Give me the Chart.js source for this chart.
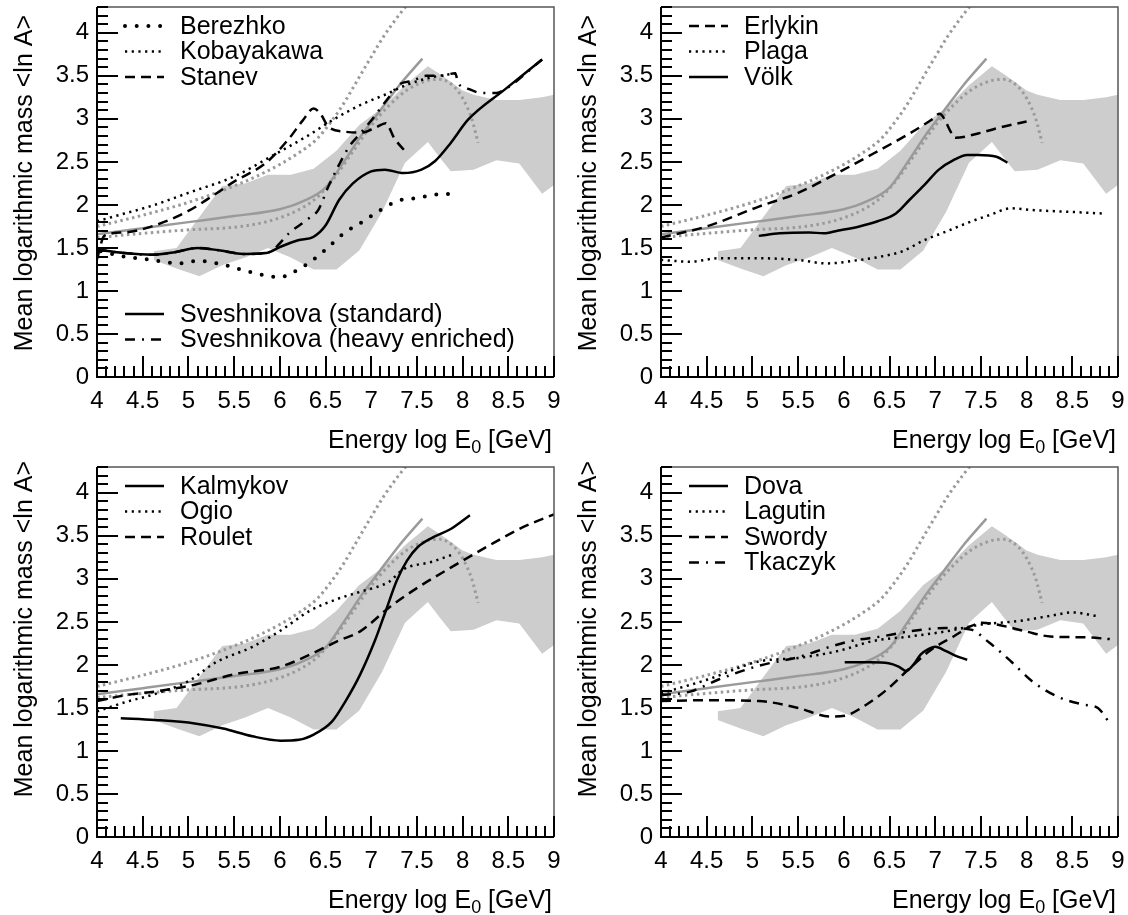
<!DOCTYPE html>
<html>
<head>
<meta charset="utf-8">
<script src="https://cdn.jsdelivr.net/npm/chart.js@4.4.0/dist/chart.umd.min.js"></script>
<style>
  html, body { margin: 0; padding: 0; background: #fff; }
  body { position: relative; width: 1128px; height: 915px; overflow: hidden; }
  .panel { position: absolute; width: 564px; height: 457px; }
</style>
</head>
<body>
<div class="panel" style="left:0;top:0"><canvas id="p1" width="564" height="457"></canvas></div>
<div class="panel" style="left:564px;top:0"><canvas id="p2" width="564" height="457"></canvas></div>
<div class="panel" style="left:0;top:460px"><canvas id="p3" width="564" height="457"></canvas></div>
<div class="panel" style="left:564px;top:460px"><canvas id="p4" width="564" height="457"></canvas></div>
<script>
// axis ticks
const xTicks = [4, 4.5, 5, 5.5, 6, 6.5, 7, 7.5, 8, 8.5, 9];
const yTicks = [0, 0.5, 1, 1.5, 2, 2.5, 3, 3.5, 4];

// measured band (shared by all panels)
const bandX    = [4.62, 4.87, 5.12, 5.37, 5.62, 5.87, 6.12, 6.37, 6.62, 6.87, 7.12, 7.37, 7.62, 7.75, 7.87, 8.0, 8.12, 8.37, 8.62, 8.87, 9.0];
const bandHigh = [1.46, 1.50, 1.86, 2.22, 2.25, 2.35, 2.35, 2.42, 2.63, 2.93, 3.13, 3.39, 3.61, 3.52, 3.43, 3.33, 3.28, 3.22, 3.22, 3.25, 3.28];
const bandLow  = [1.36, 1.26, 1.17, 1.30, 1.39, 1.50, 1.39, 1.25, 1.25, 1.47, 1.92, 2.49, 2.73, 2.55, 2.39, 2.40, 2.41, 2.52, 2.48, 2.13, 2.23];

// gray reference curves (shared)
const refX   = [4.0, 4.5, 5.0, 5.5, 6.0, 6.25, 6.5, 6.7, 6.9, 7.1, 7.3, 7.56];
const refY   = [1.66, 1.73, 1.80, 1.87, 1.95, 2.04, 2.20, 2.50, 2.82, 3.10, 3.38, 3.70];
const steepX = [4.0, 4.5, 5.0, 5.5, 5.8, 6.0, 6.2, 6.4, 6.55, 6.7, 6.85, 7.0, 7.15, 7.3, 7.45];
const steepY = [1.75, 1.88, 2.03, 2.22, 2.36, 2.47, 2.60, 2.76, 2.95, 3.18, 3.45, 3.72, 3.98, 4.2, 4.4];
const humpX  = [4.0, 4.5, 5.0, 5.5, 5.8, 6.0, 6.2, 6.4, 6.6, 6.8, 7.0, 7.2, 7.4, 7.6, 7.75, 7.9, 8.0, 8.1, 8.17];
const humpY  = [1.62, 1.67, 1.71, 1.74, 1.79, 1.85, 1.94, 2.08, 2.32, 2.62, 2.92, 3.16, 3.34, 3.44, 3.46, 3.38, 3.24, 3.0, 2.72];

// panel 1
const berezhkoX = [4.04, 4.3, 4.6, 4.9, 5.1, 5.4, 5.6, 5.8, 6.0, 6.15, 6.35, 6.5, 6.7, 6.9, 7.1, 7.3, 7.5, 7.7, 7.95];
const berezhkoY = [1.46, 1.40, 1.36, 1.32, 1.35, 1.30, 1.24, 1.19, 1.16, 1.22, 1.35, 1.48, 1.67, 1.80, 1.94, 2.05, 2.08, 2.12, 2.13];
const kobayakawaX = [4.0, 4.3, 4.6, 5.0, 5.5, 5.9, 6.3, 6.6, 6.9, 7.15, 7.4, 7.65, 7.93];
const kobayakawaY = [1.81, 1.90, 1.99, 2.14, 2.33, 2.56, 2.80, 3.00, 3.17, 3.28, 3.40, 3.48, 3.53];
const stanevX = [4.0, 4.08, 4.3, 4.6, 5.0, 5.3, 5.5, 5.85, 6.1, 6.25, 6.37, 6.45, 6.53, 6.72, 6.9, 7.05, 7.16, 7.25, 7.39];
const stanevY = [1.37, 1.64, 1.68, 1.75, 1.93, 2.13, 2.27, 2.49, 2.77, 2.98, 3.12, 3.05, 2.91, 2.85, 2.84, 2.90, 2.95, 2.78, 2.60];
const svStdX = [4.0, 4.3, 4.6, 4.85, 5.1, 5.35, 5.6, 5.85, 6.0, 6.2, 6.37, 6.5, 6.65, 6.8, 7.0, 7.15, 7.35, 7.55, 7.7, 7.87, 8.06, 8.46, 8.87];
const svStdY = [1.48, 1.44, 1.42, 1.45, 1.50, 1.47, 1.43, 1.44, 1.51, 1.59, 1.63, 1.76, 2.06, 2.25, 2.39, 2.41, 2.37, 2.41, 2.51, 2.72, 2.99, 3.34, 3.69];
const svHeavyX = [4.0, 4.3, 4.6, 4.85, 5.1, 5.35, 5.6, 5.85, 5.95, 6.1, 6.3, 6.42, 6.53, 6.64, 6.76, 6.88, 7.0, 7.1, 7.2, 7.31, 7.45, 7.6, 7.75, 7.92, 7.95, 8.04, 8.21, 8.37, 8.46, 8.87];
const svHeavyY = [1.48, 1.44, 1.42, 1.45, 1.50, 1.47, 1.43, 1.44, 1.50, 1.67, 1.83, 1.94, 2.21, 2.45, 2.68, 2.83, 2.98, 3.12, 3.26, 3.40, 3.44, 3.50, 3.50, 3.53, 3.42, 3.36, 3.30, 3.30, 3.34, 3.69];

// panel 2
const erlykinX = [4.0, 4.5, 5.07, 5.5, 5.93, 6.33, 6.72, 6.96, 7.05, 7.1, 7.16, 7.22, 7.47, 7.67, 8.0];
const erlykinY = [1.62, 1.75, 1.98, 2.14, 2.37, 2.60, 2.83, 2.99, 3.06, 3.00, 2.87, 2.78, 2.83, 2.89, 2.97];
const plagaX = [4.0, 4.32, 4.63, 5.07, 5.5, 5.81, 6.17, 6.41, 6.64, 6.88, 7.12, 7.35, 7.59, 7.83, 8.06, 8.46, 8.83];
const plagaY = [1.36, 1.34, 1.38, 1.38, 1.36, 1.32, 1.36, 1.40, 1.46, 1.59, 1.69, 1.79, 1.88, 1.96, 1.94, 1.92, 1.90];
const volkX = [5.07, 5.3, 5.62, 5.78, 5.93, 6.17, 6.37, 6.57, 6.72, 6.88, 7.04, 7.2, 7.35, 7.47, 7.67, 7.79];
const volkY = [1.64, 1.67, 1.68, 1.67, 1.70, 1.75, 1.81, 1.90, 2.06, 2.23, 2.41, 2.52, 2.58, 2.58, 2.56, 2.49];

// panel 3
const kalmykovX = [4.26, 4.63, 5.07, 5.38, 5.7, 6.01, 6.21, 6.37, 6.57, 6.72, 6.88, 7.04, 7.16, 7.28, 7.39, 7.51, 7.67, 7.87, 8.08];
const kalmykovY = [1.38, 1.36, 1.32, 1.26, 1.17, 1.12, 1.13, 1.19, 1.34, 1.58, 1.89, 2.28, 2.63, 2.98, 3.21, 3.37, 3.48, 3.58, 3.74];
const ogioX = [4.0, 4.32, 4.63, 5.0, 5.3, 5.7, 6.01, 6.33, 6.64, 6.88, 7.2, 7.35, 7.67, 7.91];
const ogioY = [1.46, 1.57, 1.66, 1.81, 2.03, 2.21, 2.40, 2.63, 2.77, 2.85, 2.97, 3.11, 3.20, 3.29];
const rouletX = [4.0, 4.32, 4.63, 5.07, 5.5, 6.01, 6.33, 6.64, 6.88, 7.2, 7.51, 7.87, 8.26, 8.66, 9.0];
const rouletY = [1.58, 1.65, 1.69, 1.77, 1.89, 1.98, 2.12, 2.28, 2.39, 2.67, 2.90, 3.13, 3.37, 3.60, 3.75];

// panel 4
const dovaX = [6.01, 6.29, 6.49, 6.6, 6.68, 6.76, 6.84, 6.92, 7.0, 7.12, 7.24, 7.35];
const dovaY = [2.03, 2.03, 2.02, 1.98, 1.93, 2.00, 2.12, 2.18, 2.21, 2.16, 2.10, 2.06];
const lagutinX = [4.0, 4.51, 5.07, 5.5, 5.93, 6.33, 6.72, 7.12, 7.51, 7.91, 8.26, 8.5, 8.76];
const lagutinY = [1.67, 1.83, 2.04, 2.08, 2.16, 2.28, 2.33, 2.39, 2.47, 2.51, 2.57, 2.61, 2.57];
const swordyX = [4.0, 4.51, 5.07, 5.5, 5.85, 6.01, 6.25, 6.49, 6.72, 6.96, 7.2, 7.39, 7.51, 7.67, 7.99, 8.26, 8.66, 8.91];
const swordyY = [1.58, 1.59, 1.58, 1.50, 1.40, 1.41, 1.54, 1.73, 1.96, 2.18, 2.33, 2.45, 2.49, 2.47, 2.39, 2.33, 2.32, 2.30];
const tkaczykX = [4.0, 4.32, 4.63, 5.07, 5.5, 5.85, 6.09, 6.41, 6.72, 7.12, 7.39, 7.59, 7.83, 8.06, 8.34, 8.62, 8.78, 8.91];
const tkaczykY = [1.65, 1.69, 1.83, 1.99, 2.09, 2.21, 2.28, 2.33, 2.39, 2.43, 2.41, 2.26, 2.04, 1.81, 1.63, 1.54, 1.50, 1.32];

const FONT = '"Liberation Sans", Arial, Helvetica, sans-serif';
const W = 564, H = 457;
const PLOT_LEFT = 97, PLOT_RIGHT = 554, PLOT_TOP = 7, PLOT_BOTTOM = 377;

// line styles
const SOLID   = { borderDash: [], borderWidth: 2.5, borderCapStyle: 'butt' };
const DASH    = { borderDash: [10, 6], borderWidth: 2.5, borderCapStyle: 'butt' };
const DOT     = { borderDash: [2.2, 4.5], borderWidth: 2.5, borderCapStyle: 'butt' };
const BIGDOT  = { borderDash: [0, 11.7], borderWidth: 4, borderCapStyle: 'round' };
const DASHDOT = { borderDash: [10, 7, 2, 7], borderWidth: 2.5, borderCapStyle: 'butt' };

const pts = (xs, ys) => xs.map((v, i) => ({ x: v, y: ys[i] }));

function baseDatasets() {
  return [
    { data: pts(refX, refY), borderColor: '#9a9a9a', borderWidth: 2.5, order: 5, cubicInterpolationMode: 'monotone' },
    { data: pts(steepX, steepY), borderColor: '#9a9a9a', borderWidth: 3, borderDash: [2.5, 3.5], order: 5, cubicInterpolationMode: 'monotone' },
    { data: pts(humpX, humpY), borderColor: '#9a9a9a', borderWidth: 3, borderDash: [2.5, 3.5], order: 5, cubicInterpolationMode: 'monotone' },
    { data: pts(bandX, bandLow), borderWidth: 0, borderColor: 'rgba(0,0,0,0)', order: 10, tension: 0 },
    { data: pts(bandX, bandHigh), borderWidth: 0, borderColor: 'rgba(0,0,0,0)', backgroundColor: '#cdcdcd', fill: '-1', order: 10, tension: 0 }
  ];
}

const rootAxes = {
  id: 'rootAxes',
  afterDraw(chart, args, opts) {
    const { ctx, chartArea: a, scales: { x, y } } = chart;
    ctx.save();

    // thin upper and right frame
    ctx.strokeStyle = '#555';
    ctx.lineWidth = 1.5;
    ctx.beginPath();
    ctx.moveTo(a.left, a.top); ctx.lineTo(a.right, a.top); ctx.lineTo(a.right, a.bottom);
    ctx.stroke();

    // inward ticks, major every 0.5, minor every 0.1
    ctx.strokeStyle = '#000';
    ctx.lineWidth = 2;
    ctx.beginPath();
    for (let i = 0; i <= 50; i++) {
      const px = Math.round(x.getPixelForValue(4 + i * 0.1));
      const len = i % 5 === 0 ? 21 : 11;
      ctx.moveTo(px, a.bottom); ctx.lineTo(px, a.bottom - len);
    }
    for (let i = 0; i <= 43; i++) {
      const py = Math.round(y.getPixelForValue(i * 0.1));
      const len = i % 5 === 0 ? 21 : 11;
      ctx.moveTo(a.left, py); ctx.lineTo(a.left + len, py);
    }
    ctx.moveTo(a.left, a.top); ctx.lineTo(a.left, a.bottom); ctx.lineTo(a.right, a.bottom);
    ctx.stroke();

    // axis titles
    ctx.fillStyle = '#000';
    ctx.textBaseline = 'alphabetic';
    ctx.font = `25px ${FONT}`;
    const t1 = 'Energy log E', t2 = '0', t3 = ' [GeV]';
    const w1 = ctx.measureText(t1).width, w3 = ctx.measureText(t3).width;
    ctx.font = `18px ${FONT}`;
    const w2 = ctx.measureText(t2).width;
    const baseY = 448;
    const sx = a.right - 2 - (w1 + w2 + w3);
    ctx.font = `25px ${FONT}`;
    ctx.textAlign = 'left';
    ctx.fillText(t1, sx, baseY);
    ctx.font = `18px ${FONT}`;
    ctx.fillText(t2, sx + w1, baseY + 5);
    ctx.font = `25px ${FONT}`;
    ctx.fillText(t3, sx + w1 + w2, baseY);

    ctx.save();
    ctx.translate(32, a.top + (opts.titleEnd || 8));
    ctx.rotate(-Math.PI / 2);
    ctx.textAlign = 'right';
    ctx.fillText('Mean logarithmic mass <ln A>', 0, 0);
    ctx.restore();

    // legend groups, samples taken from the dataset styles
    const groups = opts.groups || [];
    groups.forEach(g => {
      g.items.forEach((it, k) => {
        const ds = chart.data.datasets[it.ds];
        const cy = a.top + g.top + k * 25.5;
        ctx.save();
        ctx.strokeStyle = ds.borderColor;
        ctx.lineWidth = ds.borderWidth;
        ctx.lineCap = ds.borderCapStyle || 'butt';
        ctx.setLineDash(ds.borderDash || []);
        ctx.beginPath();
        ctx.moveTo(125, cy); ctx.lineTo(164, cy);
        ctx.stroke();
        ctx.restore();
        ctx.font = `25px ${FONT}`;
        ctx.textAlign = 'left';
        ctx.textBaseline = 'middle';
        ctx.fillText(it.label, 180, cy + 1);
      });
    });
    ctx.restore();
  }
};

function makePanel(id, models, groups, titleEnd) {
  const modelSets = models.map(m => Object.assign({
    data: pts(m.x, m.y), borderColor: '#000', order: 0, cubicInterpolationMode: 'monotone'
  }, m.style));
  const datasets = modelSets.concat(baseDatasets());
  return new Chart(document.getElementById(id), {
    type: 'scatter',
    data: { datasets: datasets.map(d => Object.assign({ showLine: true, pointRadius: 0, fill: false }, d)) },
    options: {
      responsive: false,
      animation: false,
      layout: { padding: { left: 0, top: PLOT_TOP, right: W - PLOT_RIGHT, bottom: 0 } },
      plugins: { legend: { display: false }, tooltip: { enabled: false }, rootAxes: { groups, titleEnd } },
      scales: {
        x: {
          type: 'linear', min: 4, max: 9,
          afterBuildTicks: s => { s.ticks = xTicks.map(v => ({ value: v })); },
          afterFit: s => { s.height = H - PLOT_BOTTOM; s.paddingLeft = 0; s.paddingRight = 0; },
          grid: { display: false, drawTicks: false },
          border: { display: false },
          ticks: { autoSkip: false, maxRotation: 0, padding: 10, color: '#000', font: { family: FONT, size: 24 }, callback: v => String(v) }
        },
        y: {
          type: 'linear', min: 0, max: 4.3,
          afterBuildTicks: s => { s.ticks = yTicks.map(v => ({ value: v })); },
          afterFit: s => { s.width = PLOT_LEFT; s.paddingTop = 0; s.paddingBottom = 0; },
          grid: { display: false, drawTicks: false },
          border: { display: false },
          ticks: { autoSkip: false, padding: 8, color: '#000', font: { family: FONT, size: 24 }, callback: v => String(v) }
        }
      }
    },
    plugins: [rootAxes]
  });
}

makePanel('p1', [
  { x: berezhkoX, y: berezhkoY, style: BIGDOT },
  { x: kobayakawaX, y: kobayakawaY, style: DOT },
  { x: stanevX, y: stanevY, style: DASH },
  { x: svStdX, y: svStdY, style: SOLID },
  { x: svHeavyX, y: svHeavyY, style: DASHDOT }
], [
  { top: 19, items: [{ ds: 0, label: 'Berezhko' }, { ds: 1, label: 'Kobayakawa' }, { ds: 2, label: 'Stanev' }] },
  { top: 307, items: [{ ds: 3, label: 'Sveshnikova (standard)' }, { ds: 4, label: 'Sveshnikova (heavy enriched)' }] }
], 8);

makePanel('p2', [
  { x: erlykinX, y: erlykinY, style: DASH },
  { x: plagaX, y: plagaY, style: DOT },
  { x: volkX, y: volkY, style: SOLID }
], [
  { top: 19, items: [{ ds: 0, label: 'Erlykin' }, { ds: 1, label: 'Plaga' }, { ds: 2, label: 'Völk' }] }
], 8);

makePanel('p3', [
  { x: kalmykovX, y: kalmykovY, style: SOLID },
  { x: ogioX, y: ogioY, style: DOT },
  { x: rouletX, y: rouletY, style: DASH }
], [
  { top: 19, items: [{ ds: 0, label: 'Kalmykov' }, { ds: 1, label: 'Ogio' }, { ds: 2, label: 'Roulet' }] }
], -6);

makePanel('p4', [
  { x: dovaX, y: dovaY, style: SOLID },
  { x: lagutinX, y: lagutinY, style: DOT },
  { x: swordyX, y: swordyY, style: DASH },
  { x: tkaczykX, y: tkaczykY, style: DASHDOT }
], [
  { top: 19, items: [{ ds: 0, label: 'Dova' }, { ds: 1, label: 'Lagutin' }, { ds: 2, label: 'Swordy' }, { ds: 3, label: 'Tkaczyk' }] }
], -6);
</script>
</body>
</html>
